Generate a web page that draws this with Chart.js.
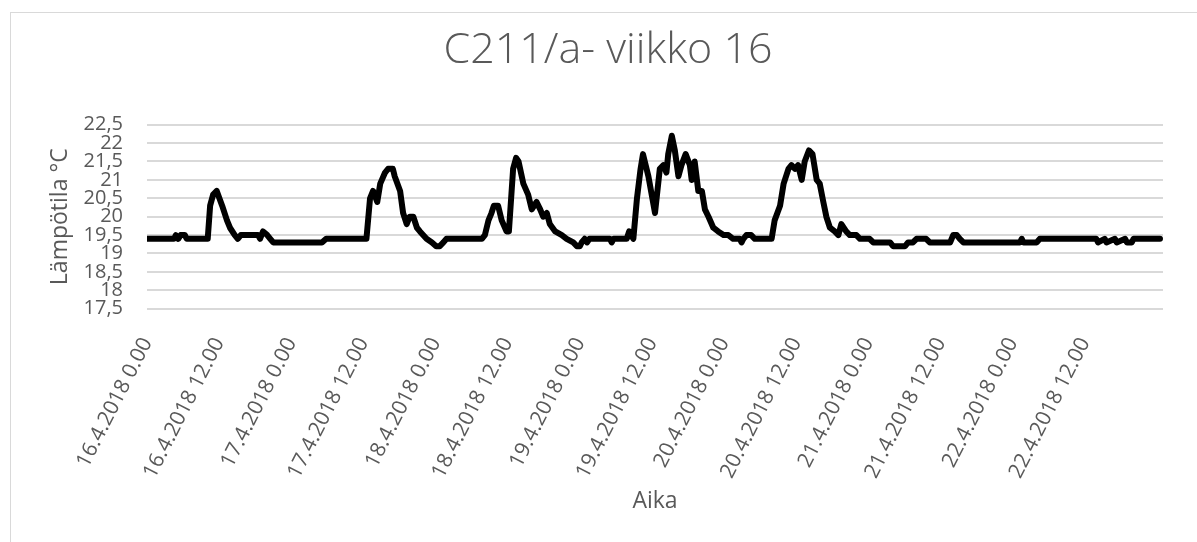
<!DOCTYPE html>
<html><head><meta charset="utf-8">
<script src="https://cdn.jsdelivr.net/npm/chart.js@4.4.1/dist/chart.umd.min.js"></script>
<style>
html,body{margin:0;padding:0;background:#fff;overflow:hidden;}
#wrap{position:relative;width:1197px;height:542px;overflow:hidden;}
#frame{position:absolute;left:10px;top:12px;width:1300px;height:700px;border:1px solid #d9d9d9;box-sizing:border-box;}
canvas{position:absolute;left:0;top:0;}
</style></head><body>
<div id="wrap"><div id="frame"></div><canvas id="c" width="1197" height="542"></canvas></div>
<script>
// hours from 16.4.2018 0.00
const hoursFromStart = [
0,4.5,4.8,5.2,5.6,6.3,6.6,10.1,10.5,11.0,11.6,12.5,13.3,13.8,14.6,15.1,15.6,18.5,18.8,19.3,20.0,20.5,21.0,29.1,29.8,
36.5,37.1,37.6,38.3,38.8,39.6,40.1,40.9,41.2,42.1,42.6,43.2,43.7,44.3,44.9,45.4,46.5,47.4,48.1,48.7,49.3,49.8,
55.7,56.2,56.8,57.3,57.7,58.4,59.0,59.8,60.2,60.9,61.4,61.8,62.6,63.4,64.0,64.8,65.4,65.9,66.5,67.0,67.9,69.0,69.8,70.9,71.5,72.0,72.3,72.8,73.2,73.6,77.0,77.3,77.6,79.8,80.2,80.9,
81.5,82.1,82.5,83.4,84.5,85.3,85.9,86.4,86.7,87.3,87.8,88.4,88.9,89.6,90.3,90.6,91.1,91.7,92.3,92.8,93.4,94.2,95.0,95.9,96.7,97.5,98.6,98.9,99.2,99.7,100.5,101.1,103.9,
104.4,105.3,105.9,106.7,107.2,107.8,108.3,108.9,109.4,110.1,110.7,111.4,111.9,112.5,113.0,113.6,114.4,115.0,115.5,116.3,116.9,118.0,118.6,120.2,120.8,123.6,124.1,126.1,126.6,127.4,128.0,129.6,130.2,133.6,134.1,134.7,135.2,135.8,
145.2,145.5,145.8,148.0,148.5,157.9,158.2,159.3,159.6,161.0,161.3,162.7,163.0,163.8,164.1,168.5
];
const temperatures = [
19.4,19.4,19.5,19.4,19.5,19.5,19.4,19.4,20.3,20.6,20.7,20.3,19.9,19.7,19.5,19.4,19.5,19.5,19.4,19.6,19.5,19.4,19.3,19.3,19.4,
19.4,20.5,20.7,20.4,20.9,21.2,21.3,21.3,21.1,20.7,20.1,19.8,20.0,20.0,19.7,19.6,19.4,19.3,19.2,19.2,19.3,19.4,
19.4,19.5,19.9,20.1,20.3,20.3,19.9,19.6,19.6,21.3,21.6,21.5,20.9,20.6,20.2,20.4,20.2,20.0,20.1,19.8,19.6,19.5,19.4,19.3,19.2,19.2,19.3,19.4,19.3,19.4,19.4,19.3,19.4,19.4,19.6,19.4,
20.5,21.3,21.7,21.1,20.1,21.3,21.4,21.2,21.7,22.2,21.8,21.1,21.4,21.7,21.4,21.0,21.5,20.7,20.7,20.2,20.0,19.7,19.6,19.5,19.5,19.4,19.4,19.3,19.4,19.5,19.5,19.4,19.4,
19.9,20.3,20.9,21.3,21.4,21.3,21.4,21.0,21.5,21.8,21.7,21.0,20.9,20.4,20.0,19.7,19.6,19.5,19.8,19.6,19.5,19.5,19.4,19.4,19.3,19.3,19.2,19.2,19.3,19.3,19.4,19.4,19.3,19.3,19.5,19.5,19.4,19.3,
19.3,19.4,19.3,19.3,19.4,19.4,19.3,19.4,19.3,19.4,19.3,19.4,19.3,19.3,19.4,19.4
];
const xTickHours = [0,12,24,36,48,60,72,84,96,108,120,132,144,156];
const xTickLabels = ['16.4.2018 0.00','16.4.2018 12.00','17.4.2018 0.00','17.4.2018 12.00','18.4.2018 0.00','18.4.2018 12.00','19.4.2018 0.00','19.4.2018 12.00','20.4.2018 0.00','20.4.2018 12.00','21.4.2018 0.00','21.4.2018 12.00','22.4.2018 0.00','22.4.2018 12.00'];
const titleText = 'C211/a- viikko 16';
const xTitle = 'Aika';
const yTitle = 'Lämpötila °C';

const FONT = "'Open Sans', 'Noto Sans', sans-serif";
const GREY = '#595959';
const points = hoursFromStart.map((h, i) => ({x: h, y: temperatures[i]}));

new Chart(document.getElementById('c'), {
  type: 'line',
  data: { datasets: [{ data: points, borderColor: '#000', borderWidth: 6, pointRadius: 0, tension: 0,
    borderJoinStyle: 'round', borderCapStyle: 'round', fill: false }] },
  options: {
    responsive: false, animation: false, devicePixelRatio: 1,
    layout: { padding: { left: 53, right: 34, top: 0, bottom: 0 } },
    plugins: {
      legend: { display: false }, tooltip: { enabled: false },
      title: { display: true, text: titleText, color: GREY,
        font: { family: FONT, size: 43, weight: '300' }, padding: { top: 25, bottom: 48.1 } }
    },
    scales: {
      x: {
        type: 'linear', min: 0, max: 169,
        afterBuildTicks: s => { s.ticks = xTickHours.map(v => ({ value: v })); },
        ticks: { autoSkip: false, minRotation: 63, maxRotation: 63, padding: 25, color: GREY,
          font: { family: FONT, size: 21 }, callback: (v, i) => xTickLabels[i] },
        grid: { display: false, drawTicks: false }, border: { display: false },
        title: { display: true, text: xTitle, color: GREY, font: { family: FONT, size: 23 }, padding: { top: 0, bottom: 27 } },
        afterFit: s => { s.height = 233.3; }
      },
      y: {
        min: 17.5, max: 22.5,
        ticks: { stepSize: 0.5, autoSkip: false, padding: 24, color: GREY, font: { family: FONT, size: 20 },
          callback: v => String(v).replace('.', ',') },
        grid: { color: '#d9d9d9', lineWidth: 2, drawTicks: false }, border: { display: false },
        title: { display: true, text: yTitle, color: GREY, font: { family: FONT, size: 23 }, padding: { top: -6, bottom: 0 } },
        afterFit: s => { s.width = 94; }
      }
    }
  }
});
</script>
</body></html>
